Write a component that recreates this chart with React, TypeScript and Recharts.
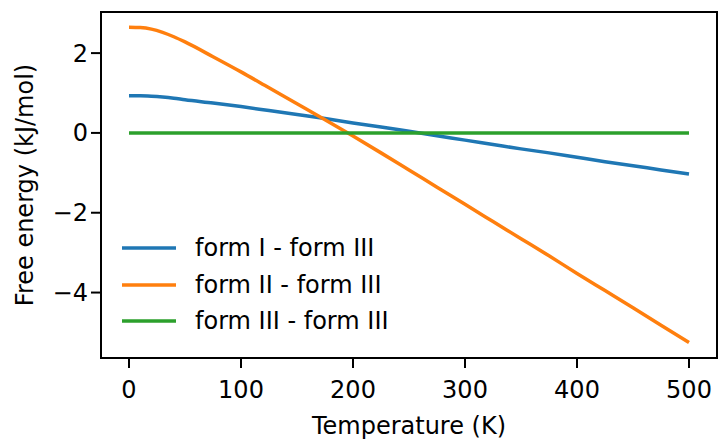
import { LineChart, Line, XAxis, YAxis, Label, ReferenceArea } from 'recharts';

// temperature grid (K) and free energy differences (kJ/mol)
const temperatures = [0, 10, 20, 30, 40, 50, 75, 100, 125, 150, 175, 200, 225, 250, 275, 300, 325, 350, 375, 400, 425, 450, 475, 500];
const formI = [0.93, 0.93, 0.92, 0.9, 0.87, 0.83, 0.75, 0.66, 0.56, 0.46, 0.36, 0.25, 0.15, 0.04, -0.07, -0.18, -0.29, -0.4, -0.5, -0.61, -0.72, -0.82, -0.93, -1.03];
const formII = [2.65, 2.64, 2.6, 2.52, 2.41, 2.28, 1.91, 1.53, 1.13, 0.73, 0.33, -0.08, -0.5, -0.93, -1.36, -1.79, -2.22, -2.65, -3.08, -3.52, -3.95, -4.38, -4.82, -5.25];
const formIII = [0, 0, 0, 0, 0, 0, 0, 0, 0, 0, 0, 0, 0, 0, 0, 0, 0, 0, 0, 0, 0, 0, 0, 0];

const xTicks = [0, 100, 200, 300, 400, 500];
const yTicks = [-4, -2, 0, 2];
const xDomain = [-25, 525];
const yDomain = [-5.64, 3.03];

const series = [
  { key: 'formI', name: 'form I - form III', color: '#1f77b4' },
  { key: 'formII', name: 'form II - form III', color: '#ff7f0e' },
  { key: 'formIII', name: 'form III - form III', color: '#2ca02c' },
];

const data = temperatures.map((t, i) => ({
  t,
  formI: formI[i],
  formII: formII[i],
  formIII: formIII[i],
}));

const FONT = '"DejaVu Sans", sans-serif';
const INK = '#000';
const fmt = (v: number) => String(v).replace('-', '\u2212');

const tickStyle = { fontSize: 24, fill: INK, fontFamily: FONT };
const tickLine = { stroke: INK, strokeWidth: 2 };
const axisLine = { stroke: INK, strokeWidth: 2 };

// matplotlib-style legend box in the lower left of the axes
const LegendBox = () => (
  <div style={{ position: 'absolute', left: 122, top: 230, fontFamily: FONT, fontSize: 24, color: INK, lineHeight: 1 }}>
    {series.map((s) => (
      <div key={s.key} style={{ display: 'flex', alignItems: 'center', height: 36.5, whiteSpace: 'nowrap' }}>
        <svg width={54} height={6} style={{ marginRight: 19 }}>
          <line x1={0} y1={3} x2={54} y2={3} stroke={s.color} strokeWidth={3.5} />
        </svg>
        <span>{s.name}</span>
      </div>
    ))}
  </div>
);

export default function App() {
  return (
    <div style={{ position: 'fixed', left: 0, top: 0, width: 718, height: 443, background: '#fff' }}>
      <LineChart width={718} height={443} data={data} margin={{ top: 12, right: 1, bottom: 0, left: 0 }}>
        <XAxis
          dataKey="t"
          type="number"
          domain={xDomain}
          ticks={xTicks}
          height={85}
          tickSize={10}
          tickMargin={13}
          tick={tickStyle}
          tickLine={tickLine}
          axisLine={axisLine}
          allowDataOverflow
        >
          <Label
            content={() => (
              <text x={409} y={434} textAnchor="middle" fontSize={24} fontFamily={FONT} fill={INK}>
                Temperature (K)
              </text>
            )}
          />
        </XAxis>
        <YAxis
          type="number"
          domain={yDomain}
          ticks={yTicks}
          width={101}
          tickSize={10}
          tickMargin={3}
          tick={tickStyle}
          tickFormatter={fmt}
          tickLine={tickLine}
          axisLine={axisLine}
          allowDataOverflow
        >
          <Label
            content={() => (
              <text
                x={0}
                y={0}
                transform="translate(33 185) rotate(-90)"
                textAnchor="middle"
                fontSize={24}
                fontFamily={FONT}
                fill={INK}
              >
                Free energy (kJ/mol)
              </text>
            )}
          />
        </YAxis>
        {/* full axes frame */}
        <ReferenceArea
          x1={xDomain[0]}
          x2={xDomain[1]}
          y1={yDomain[0]}
          y2={yDomain[1]}
          fill="none"
          fillOpacity={0}
          stroke={INK}
          strokeWidth={2}
          ifOverflow="extendDomain"
        />
        {series.map((s) => (
          <Line
            key={s.key}
            dataKey={s.key}
            name={s.name}
            type="monotone"
            stroke={s.color}
            strokeWidth={3.5}
            dot={false}
            activeDot={false}
            isAnimationActive={false}
          />
        ))}
      </LineChart>
      <LegendBox />
    </div>
  );
}
